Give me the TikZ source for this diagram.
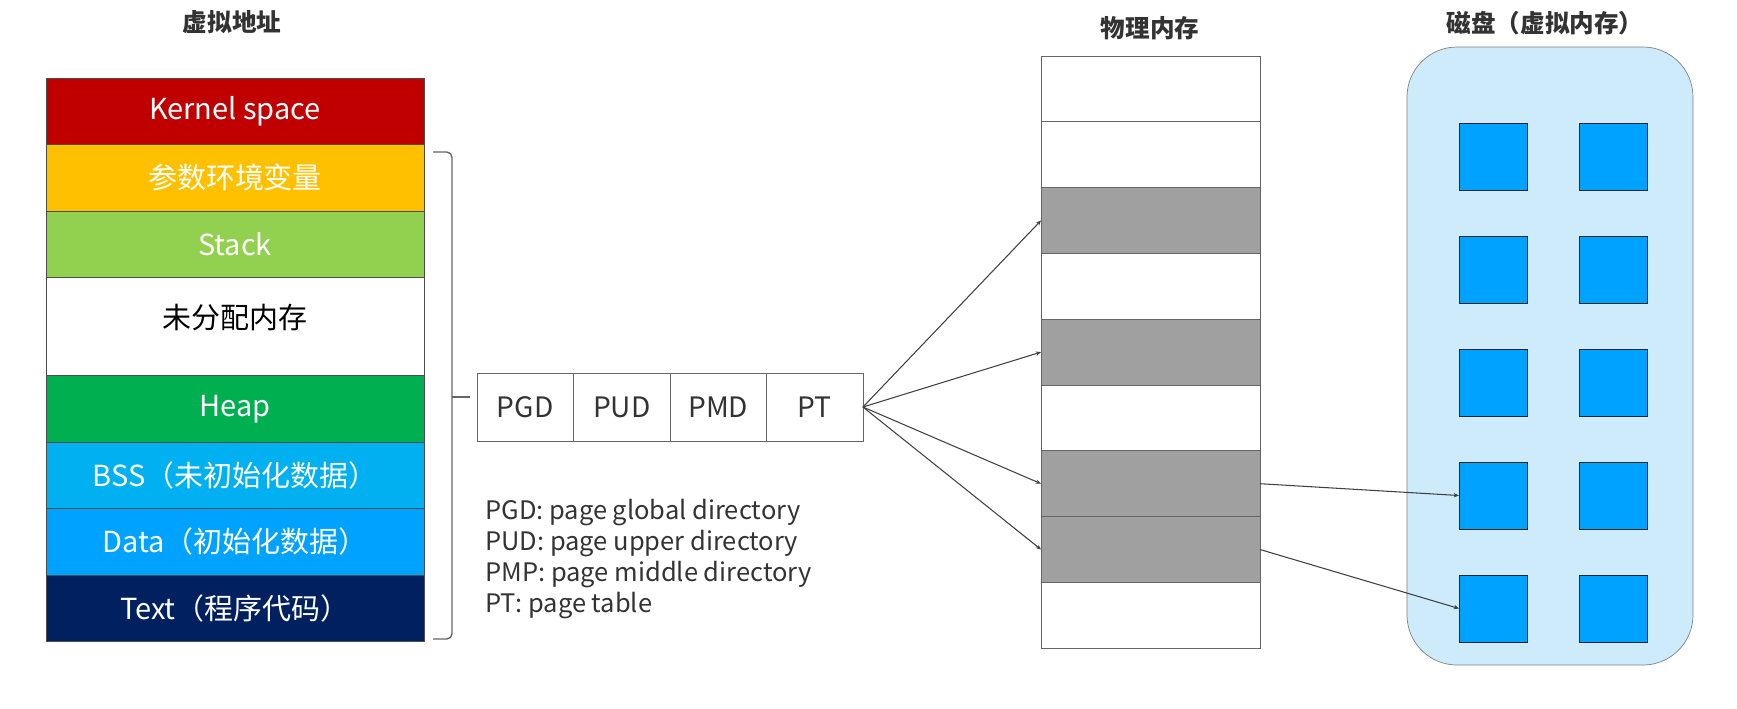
\documentclass[tikz,border=0pt]{standalone}
\usepackage{fontspec}
\setmainfont{Noto Sans CJK SC}
\usetikzlibrary{positioning,arrows.meta}

\definecolor{kernelRed}{HTML}{C00000}
\definecolor{envYellow}{HTML}{FFC000}
\definecolor{stackGreen}{HTML}{92D050}
\definecolor{heapGreen}{HTML}{00B050}
\definecolor{bssCyan}{HTML}{00B0F0}
\definecolor{dataBlue}{HTML}{00A2FF}
\definecolor{textNavy}{HTML}{002060}
\definecolor{pageGray}{HTML}{A0A0A0}
\definecolor{diskFill}{HTML}{CDEBFB}
\definecolor{blockBlue}{HTML}{00A2FF}
\definecolor{inkGray}{HTML}{333333}

\begin{document}
\begin{tikzpicture}[
        x=0.02cm, y=-0.02cm,
        font=\fontsize{16.5}{19}\selectfont,
        title/.style={font=\bfseries\fontsize{14}{17}\selectfont, text=inkGray},
        seg/.style={draw=black!70, minimum width=7.56cm, minimum height=1.33cm, inner sep=0pt, outer sep=0pt, text=white},
        segWhite/.style={seg, fill=white, text=black, minimum height=1.96cm},
        cell/.style={draw=black!60, fill=white, minimum width=1.93cm, minimum height=1.36cm, inner sep=0pt, outer sep=0pt, text=inkGray, font=\fontsize{16}{18}\selectfont},
        frame/.style={draw=black!60, minimum width=4.38cm, minimum height=1.316cm, inner sep=0pt, outer sep=0pt, anchor=north},
        block/.style={draw=black!85, fill=blockBlue, minimum width=1.36cm, minimum height=1.34cm, inner sep=0pt, outer sep=0pt},
        link/.style={draw=black!75, line width=0.6pt, -{Stealth[length=3pt, width=2.5pt]}}
    ]
        \useasboundingbox (0,0) rectangle (1737,708);

        % ========================================================
        % VIRTUAL ADDRESS SPACE
        % ========================================================
        \node[title] (vaTitle) at (232, 22) {虚拟地址};

        \node[seg, fill=kernelRed, anchor=north] (kernel) at (235, 78) {Kernel space};
        \node[seg, fill=envYellow, below=0pt of kernel] (env) {参数环境变量};
        \node[seg, fill=stackGreen, below=0pt of env] (stack) {Stack};
        \node[segWhite, below=0pt of stack] (free) {\raisebox{0.40cm}{未分配内存}};
        \node[seg, fill=heapGreen, below=0pt of free] (heap) {Heap};
        \node[seg, fill=bssCyan, below=0pt of heap] (bss) {BSS（未初始化数据）};
        \node[seg, fill=dataBlue, below=0pt of bss] (data) {Data（初始化数据）};
        \node[seg, fill=textNavy, below=0pt of data] (text) {Text（程序代码）};

        % brace over the user space
        \draw[black!60, line width=0.8pt, rounded corners=3pt]
            (433,152) -- (452,152) -- (452,639) -- (433,639);
        \draw[black!60, line width=0.8pt] (452,397) -- (470,397);

        % ========================================================
        % PAGE TABLE LEVELS
        % ========================================================
        \node[cell, anchor=north west] (pgd) at (477, 373) {PGD};
        \node[cell, right=0pt of pgd] (pud) {PUD};
        \node[cell, right=0pt of pud] (pmd) {PMD};
        \node[cell, right=0pt of pmd] (pt) {PT};

        \node[anchor=north west, inner sep=0pt, align=left, text=inkGray,
              font=\fontsize{14.5}{17.6}\selectfont] (legend) at (485, 499) {
            PGD: page global directory\\
            PUD: page upper directory\\
            PMP: page middle directory\\
            PT: page table
        };

        % ========================================================
        % PHYSICAL MEMORY
        % ========================================================
        \node[title] (pmTitle) at (1150, 28) {物理内存};

        \foreach \i/\fillc in {1/white, 2/white, 3/pageGray, 4/white, 5/pageGray,
                               6/white, 7/pageGray, 8/pageGray, 9/white}
            \node[frame, fill=\fillc] (mem\i) at (1150.5, {56+65.8*(\i-1)}) {};

        % ========================================================
        % DISK (VIRTUAL MEMORY)
        % ========================================================
        \node[title] (diskTitle) at (1545, 23) {磁盘（虚拟内存）};

        \draw[black!50, fill=diskFill, rounded corners=1cm] (1407,47) rectangle (1693,665);

        \foreach \r in {1,...,5}
            \foreach \c/\cx in {1/1493, 2/1613.5}
                \node[block] (sq\r\c) at (\cx, {156.5+113*(\r-1)}) {};

        % ========================================================
        % MAPPINGS
        % ========================================================
        \foreach \m in {3,5,7,8}
            \draw[link] (pt.east) -- (mem\m.west);

        \draw[link] (mem7.east) -- (sq41.west);
        \draw[link] (mem8.east) -- (sq51.west);

    \end{tikzpicture}
\end{document}
